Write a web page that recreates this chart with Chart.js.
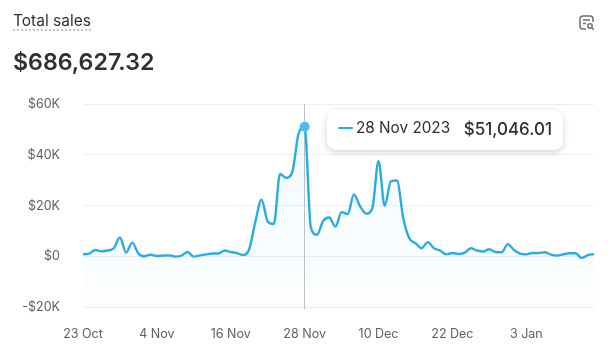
<!DOCTYPE html>
<html><head><meta charset="utf-8">
<script src="https://cdn.jsdelivr.net/npm/chart.js@4"></script>
<style>
html,body{margin:0;padding:0;background:#fff;width:612px;height:363px;overflow:hidden;font-family:Inter,sans-serif}
#wrap{position:absolute;left:0;top:0;width:612px;height:363px}
#title{position:absolute;left:13px;top:12px;font-size:15.5px;color:#303030;line-height:17px;border-bottom:2px dotted #c4c4c4;padding-bottom:0}
#total{position:absolute;left:13px;top:48px;font-size:23.2px;font-weight:600;color:#303030;line-height:29px}
#icon{position:absolute;left:578px;top:14px}
#tip{position:absolute;left:327px;top:110px;width:236px;height:40px;background:#fff;border-radius:9px;box-shadow:0 2px 7px rgba(0,0,0,.18);color:#303030}
#tip i{position:absolute;left:11px;top:17px;width:15px;height:2px;background:#2aabe6;border-radius:1px}
#tip .d{position:absolute;left:29px;top:9px;line-height:18px;font-size:15.3px}
#tip .v{position:absolute;right:11px;top:10px;line-height:18px;font-size:17px;font-weight:500}
</style></head><body>
<div id="wrap"><canvas id="c" width="612" height="363"></canvas></div>
<div id="title">Total sales</div>
<div id="total">$686,627.32</div>
<svg id="icon" width="18" height="18" viewBox="0 0 18 18" fill="none" stroke="#6f6f6f" stroke-width="1.5"><path d="M8 15H5a3 3 0 0 1-3-3V5a3 3 0 0 1 3-3h7a3 3 0 0 1 3 3v3"/><path d="M5 6h7M5 9.5h3"/><circle cx="12" cy="12" r="2.2"/><path d="M13.8 13.8l2 2"/></svg>
<div id="tip"><i></i><span class="d">28 Nov 2023</span><span class="v">$51,046.01</span></div>
<script>
const days = ["23 Oct","24 Oct","25 Oct","26 Oct","27 Oct","28 Oct","29 Oct","30 Oct","31 Oct","1 Nov","2 Nov","3 Nov","4 Nov","5 Nov","6 Nov","7 Nov","8 Nov","9 Nov","10 Nov","11 Nov","12 Nov","13 Nov","14 Nov","15 Nov","16 Nov","17 Nov","18 Nov","19 Nov","20 Nov","21 Nov","22 Nov","23 Nov","24 Nov","25 Nov","26 Nov","27 Nov","28 Nov","29 Nov","30 Nov","1 Dec","2 Dec","3 Dec","4 Dec","5 Dec","6 Dec","7 Dec","8 Dec","9 Dec","10 Dec","11 Dec","12 Dec","13 Dec","14 Dec","15 Dec","16 Dec","17 Dec","18 Dec","19 Dec","20 Dec","21 Dec","22 Dec","23 Dec","24 Dec","25 Dec","26 Dec","27 Dec","28 Dec","29 Dec","30 Dec","31 Dec","1 Jan","2 Jan","3 Jan","4 Jan","5 Jan","6 Jan","7 Jan","8 Jan","9 Jan","10 Jan","11 Jan","12 Jan","13 Jan","14 Jan"];
const sales = [920,1200,2600,2100,2400,3300,7500,1600,5500,1200,130,800,260,400,500,0,400,1800,0,500,900,1200,1200,2400,1800,1400,600,3000,13800,22400,13800,12800,32500,31000,33300,48300,51046.01,11500,8600,14000,15400,11800,17500,16700,24400,19800,16900,19100,37500,20000,29600,29900,15400,7200,5300,3300,5700,3300,2400,900,1400,1050,1600,3300,2400,2000,2900,1800,1700,4900,2600,1200,900,1400,1400,1700,800,400,900,1300,1300,-500,600,1000];
const tickLabels = ["23 Oct","4 Nov","16 Nov","28 Nov","10 Dec","22 Dec","3 Jan"];
const yTicks = [-20000,0,20000,40000,60000];
const activeIndex = 36;
const lineColor = "#2aabe6";

const crosshair = {
  id:"crosshair",
  beforeDatasetsDraw(chart){
    const {ctx,scales:{x,y}} = chart;
    const px = x.getPixelForValue(activeIndex);
    ctx.save();ctx.strokeStyle="#c2c2c2";ctx.lineWidth=1;
    ctx.beginPath();ctx.moveTo(Math.round(px)-.5,y.top);ctx.lineTo(Math.round(px)-.5,y.bottom+2);ctx.stroke();ctx.restore();
  }
};
new Chart(document.getElementById("c"),{
  type:"line",
  plugins:[crosshair],
  data:{labels:days,datasets:[{
    data:sales,borderColor:lineColor,borderWidth:2.4,cubicInterpolationMode:"monotone",
    fill:"start",
    backgroundColor(ctx){
      const a=ctx.chart.chartArea; if(!a) return "#f3faff";
      const g=ctx.chart.ctx.createLinearGradient(0,a.top,0,a.bottom);
      g.addColorStop(0,"rgba(47,176,236,0.07)");
      g.addColorStop(1,"rgba(47,176,236,0.01)");
      return g;
    },
    pointRadius:c=>c.dataIndex===activeIndex?5:0,
    pointBackgroundColor:"#49bcf2",pointBorderWidth:0
  }]},
  options:{
    responsive:false,animation:false,
    layout:{padding:{left:0,right:18,top:104,bottom:0}},
    plugins:{legend:{display:false},tooltip:{enabled:false}},
    scales:{
      x:{type:"category",offset:false,grid:{display:false},border:{display:false},
        afterBuildTicks(s){s.ticks=tickLabels.map(l=>({value:days.indexOf(l),label:l}));},
        afterFit(s){s.height=55.5;},
        ticks:{autoSkip:false,maxRotation:0,color:"#616161",padding:11,font:{family:"Inter",size:12.5},
          callback(v){return days[v];}}},
      y:{min:-20000,max:60000,
        afterBuildTicks(s){s.ticks=yTicks.map(v=>({value:v}));},
        afterFit(s){s.width=83;},
        grid:{color:"#eeeeee",drawTicks:false,lineWidth:1},border:{display:false},
        ticks:{color:"#616161",padding:23,font:{family:"Inter",size:12.5},
          callback(v){return v===0?"$0":v<0?"-$"+Math.abs(v/1000)+"K":"$"+(v/1000)+"K";}}}
    }
  }
});
</script></body></html>
